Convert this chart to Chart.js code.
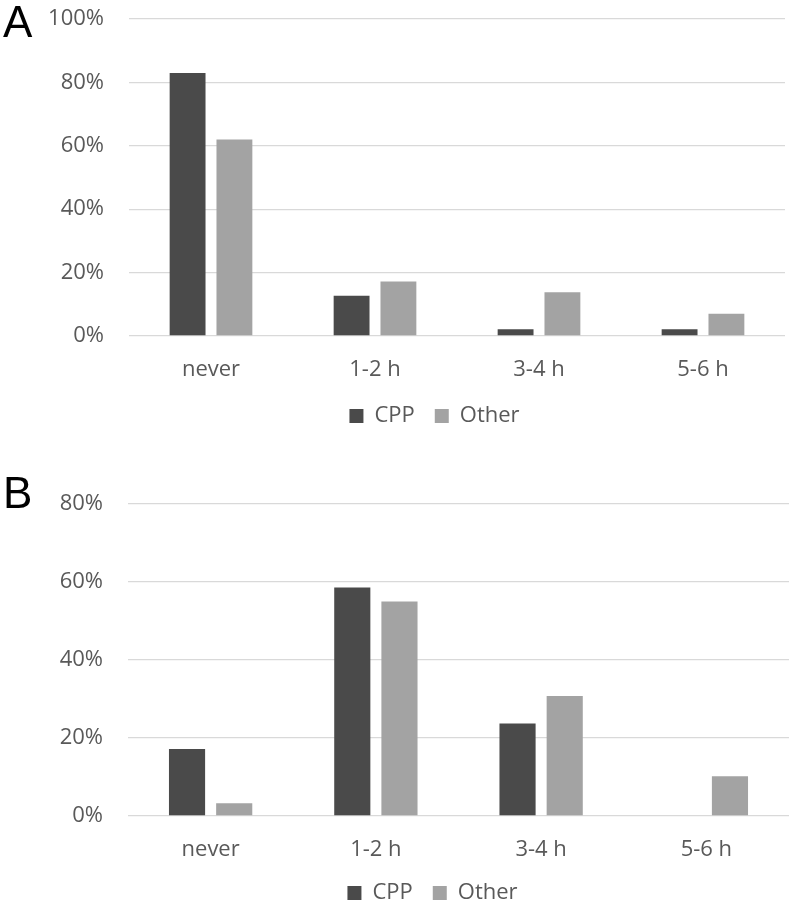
<!DOCTYPE html>
<html>
<head>
<meta charset="utf-8">
<script src="https://cdn.jsdelivr.net/npm/chart.js@4"></script>
<style>
html,body{margin:0;padding:0;background:#fff;overflow:hidden;}
#wrapA{position:absolute;left:0;top:0;width:793px;height:442px;}
#wrapB{position:absolute;left:0;top:460px;width:793px;height:457px;}
.tag{position:absolute;left:3px;font-family:"Liberation Sans",Arial,sans-serif;font-size:44px;line-height:1;color:#000;}
</style>
</head>
<body>
<div id="wrapA"><canvas id="chartA"></canvas></div>
<div id="wrapB"><canvas id="chartB"></canvas></div>
<div class="tag" style="top:0px">A</div>
<div class="tag" style="top:471px">B</div>
<script>

const categories=["never","1-2 h","3-4 h","5-6 h"];

// panel A
const cppA=[83,12.7,2.1,2.1];
const otherA=[62,17.2,13.8,7];
const ticksA=[0,20,40,60,80,100];

// panel B
const cppB=[17.2,58.6,23.7,0];
const otherB=[3.3,55,30.8,10.2];
const ticksB=[0,20,40,60,80];

Chart.defaults.font.family="'Open Sans'";
Chart.defaults.color="#595959";

function makeChart(id,cpp,other,ticks,pad,yWidth,xHeight,legendDx){

// legend in the reference sits a bit right of the canvas centre
const legendShift={
id:"legendShift",
afterLayout(chart){
chart.legend.left+=legendDx;
chart.legend.right+=legendDx;
}
};

new Chart(document.getElementById(id),{
type:"bar",
data:{
labels:categories,
datasets:[{
label:"CPP",
data:cpp,
backgroundColor:"#4a4a4a",
borderWidth:0
},{
label:"Other",
data:other,
backgroundColor:"#a3a3a3",
borderWidth:0
}]
},
options:{
responsive:true,
maintainAspectRatio:false,
animation:false,
barPercentage:0.766,
categoryPercentage:0.571,
layout:{padding:pad},
plugins:{
legend:{
position:"bottom",
labels:{boxWidth:14,boxHeight:14,padding:20,color:"#595959",font:{size:22}}
},
tooltip:{enabled:false}
},
scales:{
x:{
grid:{display:false},
border:{display:false},
ticks:{padding:13,font:{size:22},color:"#595959"},
afterFit:function(scale){scale.height=xHeight;}
},
y:{
min:ticks[0],
max:ticks[ticks.length-1],
border:{display:false},
grid:{color:"#d9d9d9",lineWidth:1.3,drawTicks:false},
afterBuildTicks:function(scale){scale.ticks=ticks.map(v=>({value:v}));},
ticks:{padding:25,font:{size:22},color:"#595959",callback:v=>v+"%"},
afterFit:function(scale){
scale.width=yWidth;
// tick padding should not push the plot top down
scale.paddingTop=0;
scale.paddingBottom=0;
}
}
}
},
plugins:[legendShift]
});

}

makeChart("chartA",cppA,otherA,ticksA,{left:0,right:8,top:19,bottom:5},129,49,42);
makeChart("chartB",cppB,otherB,ticksB,{left:0,right:4,top:44,bottom:3},128,46,38);

</script>
</body>
</html>
